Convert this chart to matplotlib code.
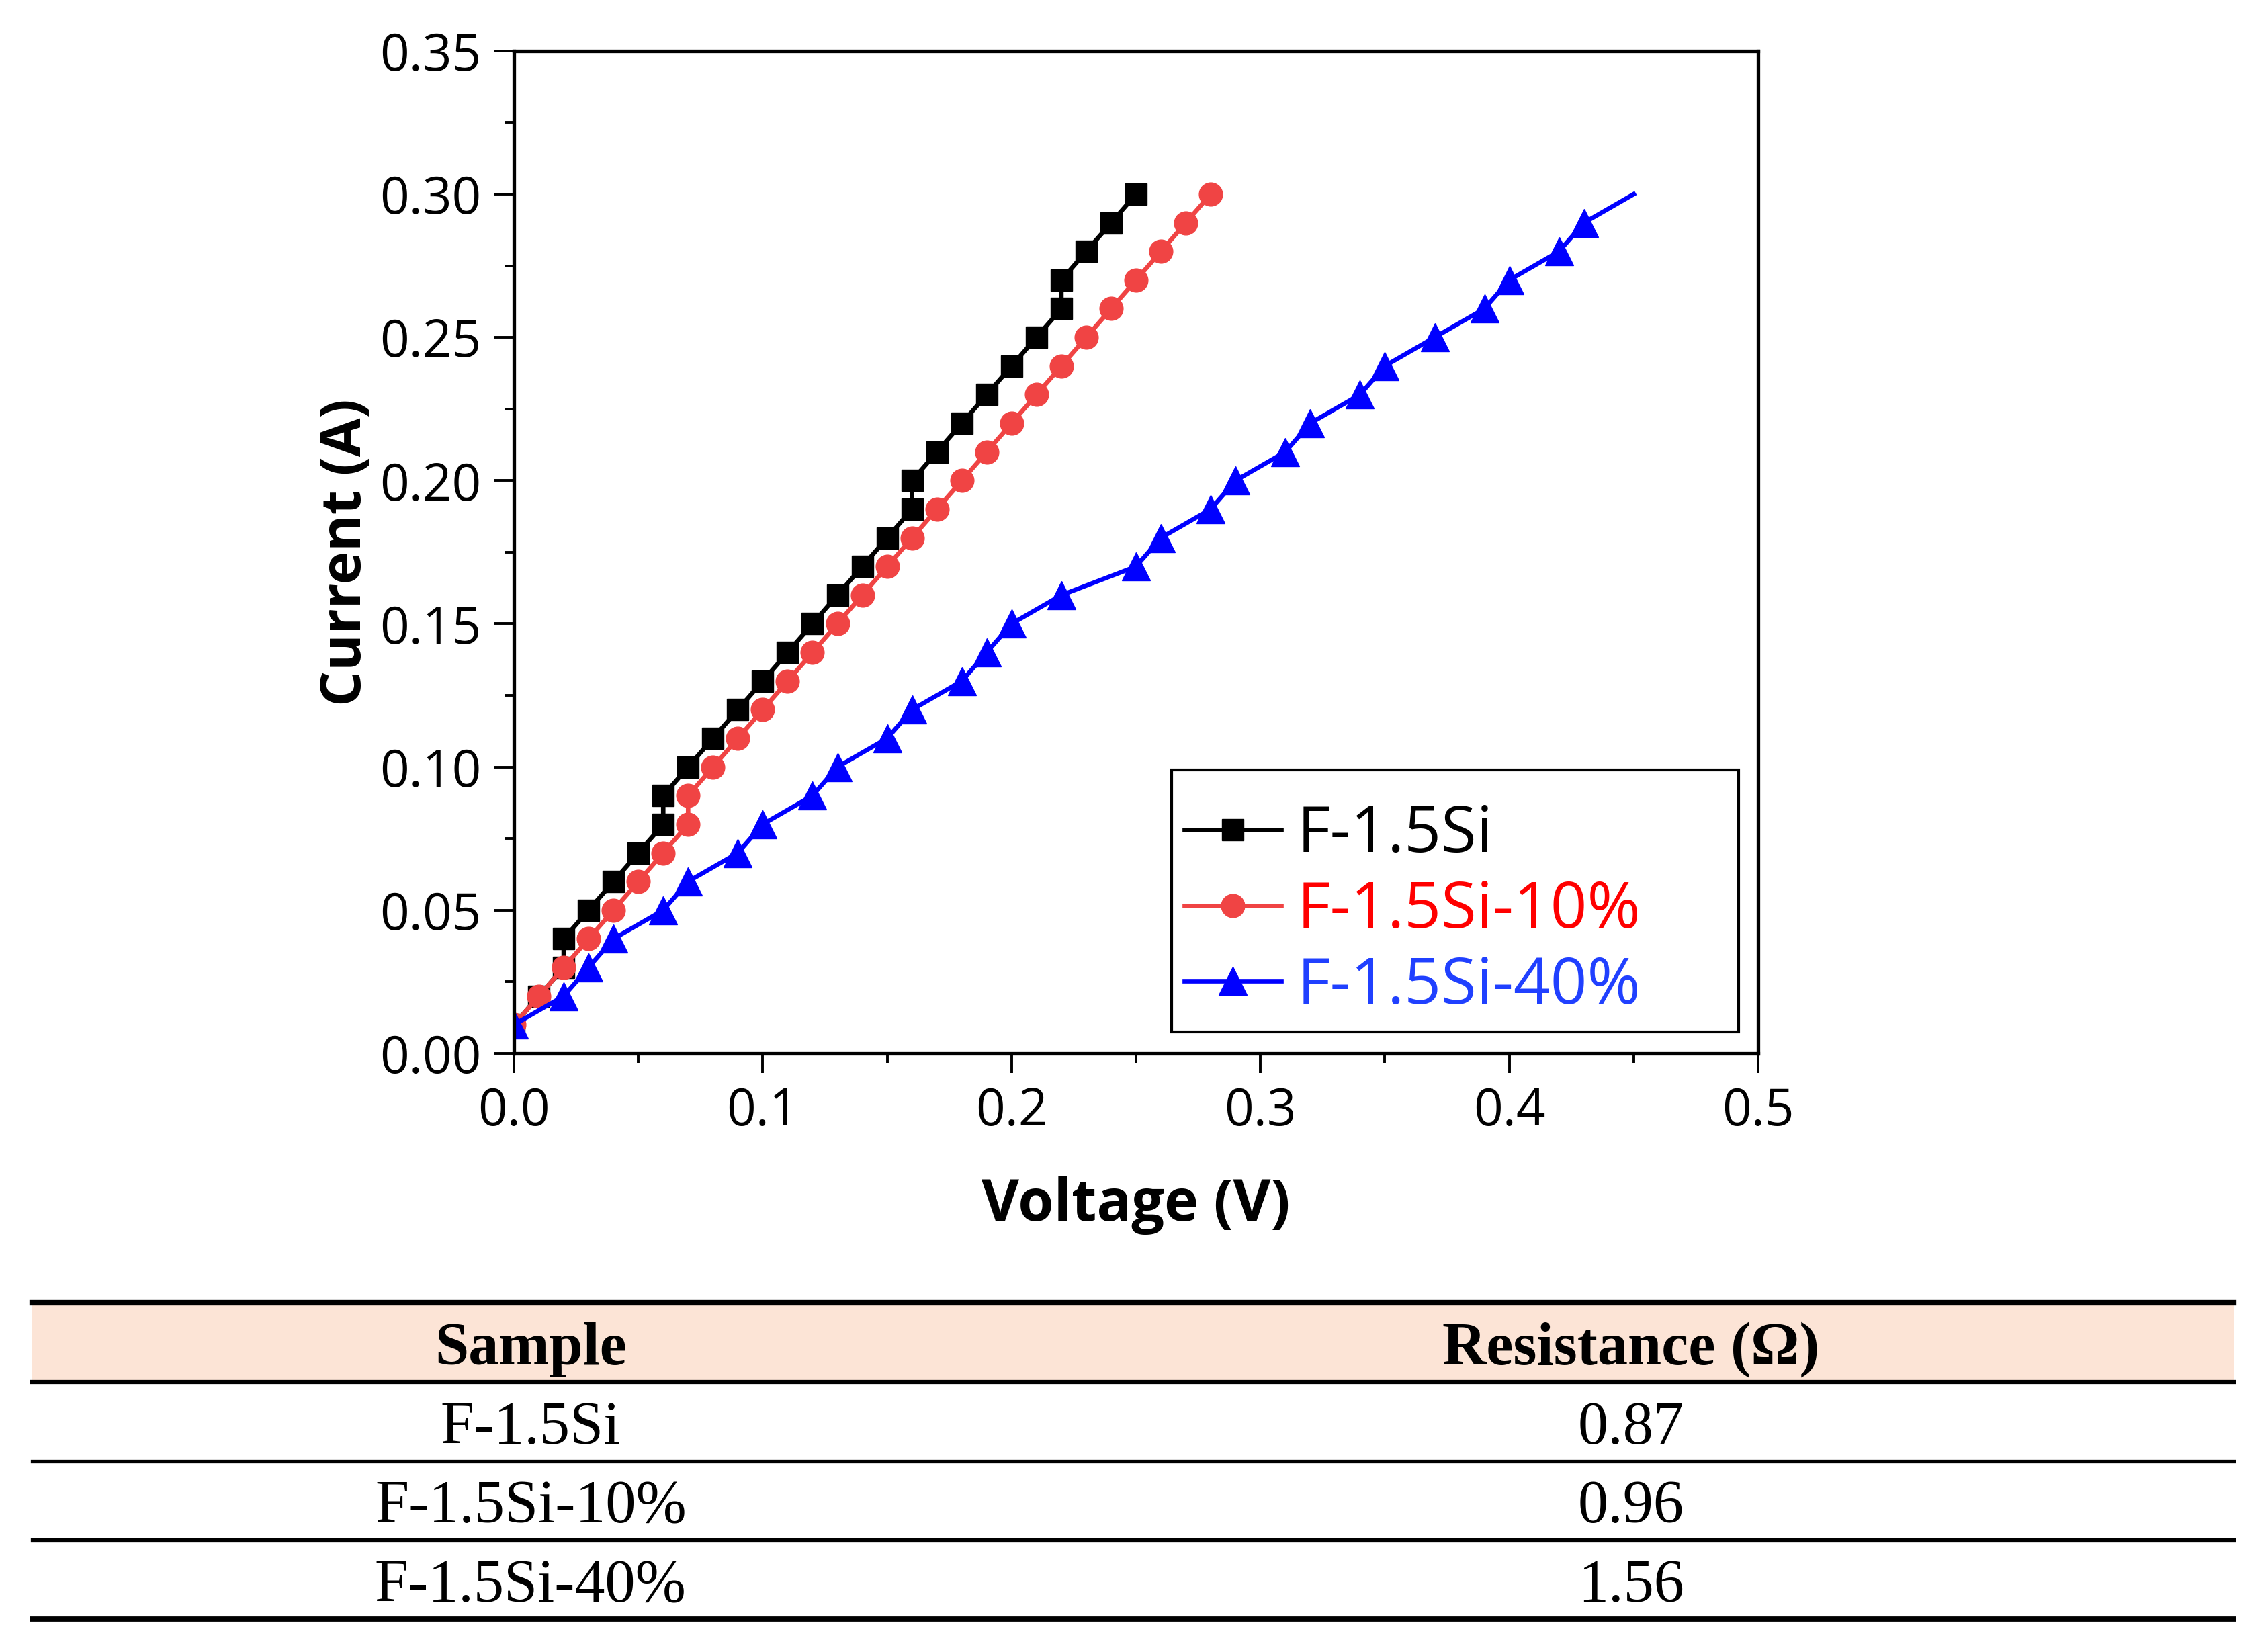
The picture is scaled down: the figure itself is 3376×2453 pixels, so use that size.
import matplotlib
matplotlib.use("Agg")
import matplotlib.pyplot as plt
from matplotlib.ticker import MultipleLocator, FormatStrFormatter

# I-V data
v_black = [0.00, 0.01, 0.02, 0.02, 0.03, 0.04, 0.05, 0.06, 0.06, 0.07,
           0.08, 0.09, 0.10, 0.11, 0.12, 0.13, 0.14, 0.15, 0.16, 0.16,
           0.17, 0.18, 0.19, 0.20, 0.21, 0.22, 0.22, 0.23, 0.24, 0.25]
v_red = [0.00, 0.01, 0.02, 0.03, 0.04, 0.05, 0.06, 0.07, 0.07, 0.08,
         0.09, 0.10, 0.11, 0.12, 0.13, 0.14, 0.15, 0.16, 0.17, 0.18,
         0.19, 0.20, 0.21, 0.22, 0.23, 0.24, 0.25, 0.26, 0.27, 0.28]
v_blue = [0.00, 0.02, 0.03, 0.04, 0.06, 0.07, 0.09, 0.10, 0.12, 0.13,
          0.15, 0.16, 0.18, 0.19, 0.20, 0.22, 0.25, 0.26, 0.28, 0.29,
          0.31, 0.32, 0.34, 0.35, 0.37, 0.39, 0.40, 0.42, 0.43, 0.45]
current = [0.01, 0.02, 0.03, 0.04, 0.05, 0.06, 0.07, 0.08, 0.09, 0.10,
           0.11, 0.12, 0.13, 0.14, 0.15, 0.16, 0.17, 0.18, 0.19, 0.20,
           0.21, 0.22, 0.23, 0.24, 0.25, 0.26, 0.27, 0.28, 0.29, 0.30]

labels = ["F-1.5Si", "F-1.5Si-10%", "F-1.5Si-40%"]

# table below the chart
col_headers = ["Sample", "Resistance (\u03a9)"]
samples = ["F-1.5Si", "F-1.5Si-10%", "F-1.5Si-40%"]
resistance = ["0.87", "0.96", "1.56"]

plt.rcParams['font.family'] = ['Open Sans', 'DejaVu Sans']

fig = plt.figure(figsize=(33.76, 24.53), dpi=100)
ax = fig.add_axes([0.2266, 0.3608, 0.5486, 0.6083])

lw = 4.8
ax.plot(v_black, current, color='black', lw=lw, marker='s', ms=23,
        mec='black', mfc='black', label=labels[0])
ax.plot(v_red, current, color='#F04444', lw=lw, marker='o', ms=25,
        mec='#F04444', mfc='#F04444', label=labels[1])
ax.plot(v_blue, current, color='#0000FF', lw=lw, marker='^', ms=30,
        mec='#0000FF', mfc='#0000FF', markevery=list(range(len(v_blue) - 1)),
        label=labels[2])

ax.set_xlim(0, 0.5)
ax.set_ylim(0, 0.35)
ax.xaxis.set_major_locator(MultipleLocator(0.1))
ax.xaxis.set_minor_locator(MultipleLocator(0.05))
ax.yaxis.set_major_locator(MultipleLocator(0.05))
ax.yaxis.set_minor_locator(MultipleLocator(0.025))
ax.xaxis.set_major_formatter(FormatStrFormatter('%.1f'))
ax.yaxis.set_major_formatter(FormatStrFormatter('%.2f'))

for s in ax.spines.values():
    s.set_linewidth(3.8)
ax.tick_params(which='major', direction='out', length=21, width=2.8,
               labelsize=55, pad=14, top=False, right=False)
ax.tick_params(which='minor', direction='out', length=10, width=2.8,
               top=False, right=False)

ax.set_xlabel("Voltage (V)", fontsize=62, fontweight='bold', labelpad=42)
ax.set_ylabel("Current (A)", fontsize=60, fontweight='bold', labelpad=6)

leg = ax.legend(loc='lower left', bbox_to_anchor=(0.5286, 0.0214, 0.4557, 0.3),
                mode='expand', borderaxespad=0, fontsize=69, frameon=True,
                fancybox=False, edgecolor='black', framealpha=1,
                handlelength=1.5, handletextpad=0.25, labelspacing=0.18,
                borderpad=0.2, markerscale=1.0, title=' ', title_fontsize=9)
leg.get_frame().set_linewidth(3)
for txt, c in zip(leg.get_texts(), ['black', '#FF0000', '#2040FF']):
    txt.set_color(c)

# table
tab = fig.add_axes([0.0142, 0.01753, 0.9707, 0.1920])
tab.set_xlim(0, 1)
tab.set_ylim(4, 0)
tab.axis('off')
tab.axhspan(0, 1, color='#FCE4D6', lw=0)
for y, w in zip([0, 1, 2, 3, 4], [6.0, 4.5, 3.8, 3.8, 5.6]):
    tab.axhline(y, color='black', lw=w, clip_on=False)

col_x = [0.2264, 0.7263]
for cx, h in zip(col_x, col_headers):
    tab.text(cx, 0.78, h, ha='center', va='baseline', fontsize=65,
             fontweight='bold', family='Liberation Serif')
for r, (s, v) in enumerate(zip(samples, resistance)):
    tab.text(col_x[0], r + 1.78, s, ha='center', va='baseline', fontsize=65,
             family='Liberation Serif')
    tab.text(col_x[1], r + 1.78, v, ha='center', va='baseline', fontsize=65,
             family='Liberation Serif')

fig.savefig("out.png", dpi=100)
